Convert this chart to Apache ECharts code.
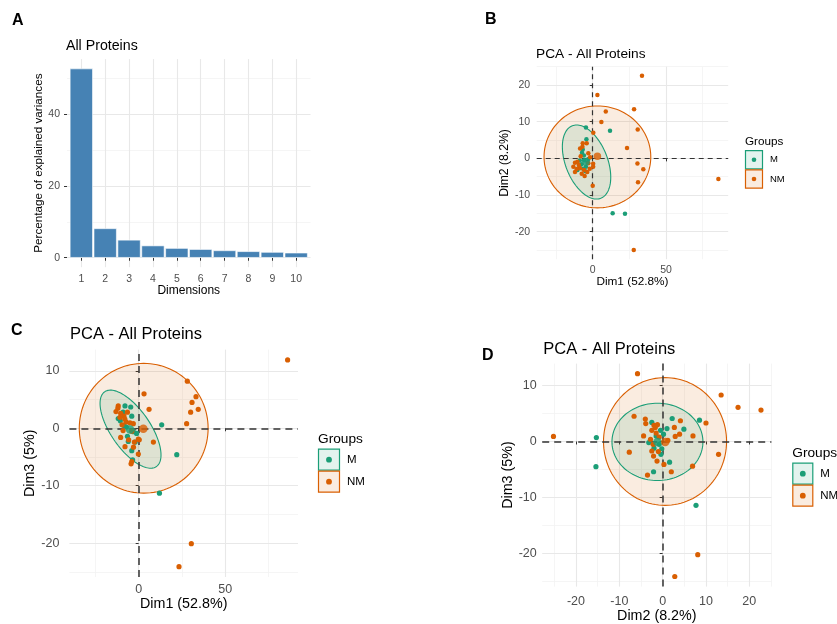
<!DOCTYPE html>
<html>
<head>
<meta charset="utf-8">
<script src="https://cdn.jsdelivr.net/npm/echarts@6.0.0/dist/echarts.min.js"></script>
<style>html,body{margin:0;padding:0;background:#fff;}#c{width:837px;height:624px;}</style>
</head>
<body>
<div id="c"></div>
<script>
// ---------- DATA ----------
const dims = [1, 2, 3, 4, 5, 6, 7, 8, 9, 10];
const variance = [52.8, 8.2, 5.0, 3.4, 2.7, 2.4, 2.05, 1.8, 1.6, 1.4];

const groups = ['M', 'NM'];

// Panel B: Dim1 vs Dim2
const B_M = [[-4.6,8.4],[11.8,7.5],[-4.3,5.2],[-6.8,2.4],[-7.3,1.5],[-6,0.8],[-5.9,-0.5],[-3.5,-1.2],[-8.8,-0.6],[-7.5,-1.6],[-4.6,-2.3],[-9,-2],[-6.5,-2.8],[-10.4,-3.2],[-5,-3.5],[-3,-0.2],[13.6,-15],[22,-15.1]];
const B_NM = [[33.6,22.5],[3.2,17.3],[8.9,12.8],[28.2,13.4],[5.9,9.9],[30.7,7.9],[23.4,2.8],[30.5,-1.4],[34.5,-3],[30.9,-6.5],[85.7,-5.6],[28,-25],[0.4,7.0],[0.3,-1.5],[0.3,-2.3],[0,-7.5],[-4.1,4.1],[-6.8,4.1],[-8.6,2.7],[-8.2,0.6],[-3,1.4],[-12.1,-1.2],[-10.4,-0.9],[-13.2,-2.3],[-8.7,-2.7],[-3,-1.3],[-12.1,-3.7],[-7.5,-4.2],[-3.7,-3.7],[-9.5,-1.8],[-6,-3.2],[-2,-2.8],[-11,-2.9],[-5.5,-4.8],[-1.8,0.3],[-7,3.2]];
const B_centroids = [[-4.6,-0.9],[3.2,0.6]];
// ellipse: [cx, cy, halfX, halfY, corr, groupIndex]
const B_ellipses = [[3.2,0.4,36.4,13.9,0,1],[-4.2,-1.0,16.5,10.1,-0.41,0]];

// Panel C: Dim1 vs Dim3
const C_M = [[13.3,0.6],[22,-4.6],[12,-11.3],[-7.9,3.9],[-4.6,3.7],[-11.8,1.7],[-4,2.1],[-10.6,1.3],[-7.1,0.2],[-6.5,-1.4],[-6,-2.3],[-4,-3.9],[-3.5,-5.5],[-3.1,-0.6],[-1.2,-0.9],[-9,2.8],[-8.5,0.5],[-2,-2.4]];
const C_NM = [[86,11.9],[28.1,8.2],[33.1,5.5],[30.8,4.5],[34.4,3.3],[30,2.8],[27.7,0.8],[3.1,6.0],[6,3.3],[8.5,-2.4],[30.4,-20.1],[23.3,-24.1],[-0.2,-1.9],[-0.2,-4.5],[-2.5,-2.4],[-4,-5.8],[-4.4,-6.2],[-11.8,3.9],[-13.1,2.9],[-10.4,2.6],[-8.5,2.1],[-7.3,1.1],[-5,0.95],[-9.6,0.6],[-3.1,0.8],[-9,-0.4],[-10.4,-1.6],[-7.9,-3.2],[0.35,-2.0],[-12,3.5],[-6.5,2.8],[-8,1.6],[-4,-0.5],[-5.8,-2],[-10.8,1.9],[-3,-3.3]];
const C_centroids = [[-5,-0.2],[2.7,-0.1]];
const C_ellipses = [[2.9,0,37.2,11.3,0,1],[-4.7,-0.16,17.6,6.8,-0.66,0]];

// Panel D: Dim2 vs Dim3
const D_M = [[-15.3,0.7],[-15.4,-4.5],[7.7,-11.4],[8.5,3.8],[2.2,4.1],[4.9,2.2],[1.0,2.3],[1.6,-3.7],[-2.1,-5.4],[-2.5,3.4],[-3.2,-0.2],[-2,-1.2],[-0.4,-2.3],[-0.2,-1.3],[-0.5,2.0],[-1.5,1.0],[0.2,1.3],[-0.8,-0.5]];
const D_NM = [[-5.8,12.1],[13.5,8.3],[17.4,6.1],[22.7,5.6],[-25.2,0.9],[-6.6,4.5],[10,3.3],[12.9,-2.3],[7,1.0],[6.9,-4.4],[-7.7,-1.9],[8.1,-20.2],[2.8,-24.1],[2.0,-5.4],[-3.5,-6.0],[4.1,3.7],[2.7,2.5],[3.9,1.3],[2.9,0.9],[-4,4],[-3.9,3.2],[-2,2.9],[-1.7,2.5],[-2.5,2.0],[-4.4,1.0],[-2.8,0.4],[-2.5,-1.7],[-2.1,-2.6],[-1.3,-3.5],[0.3,-4.1],[-1.2,3.0],[-1.5,1.5],[-0.8,0.8],[-2.2,-0.5],[1.2,0.2],[-1,-1.8]];
const D_centroids = [[-1.2,-0.1],[0.6,-0.1]];
const D_ellipses = [[0.55,0,14.2,11.4,0,1],[-1.2,-0.07,10.5,6.9,0,0]];

// tick values
const A_yTicks = [0, 20, 40];
const A_yMinor = [10, 30, 50];
const B_xTicks = [0, 50];
const B_xMinor = [-25, 25, 75];
const B_yTicks = [-20, -10, 0, 10, 20];
const B_yMinor = [-25, -15, -5, 5, 15, 25];
const C_xTicks = [0, 50];
const C_xMinor = [-25, 25, 75];
const C_yTicks = [-20, -10, 0, 10];
const C_yMinor = [-25, -15, -5, 5];
const D_xTicks = [-20, -10, 0, 10, 20];
const D_xMinor = [-25, -15, -5, 5, 15, 25];
const D_yTicks = [-20, -10, 0, 10];
const D_yMinor = [-25, -15, -5, 5];

// ---------- STYLE ----------
const COLORS = ['#1B9E77', '#D95F02'];
const FILLS = ['rgba(27,158,119,0.12)', 'rgba(217,95,2,0.12)'];
const FONT = 'Liberation Sans, Arial, sans-serif';
const MAJOR = '#e8e8e8', MINOR = '#f3f3f3';

const chart = echarts.init(document.getElementById('c'), null, {renderer: 'canvas'});

function valAxis(idx, min, max, ticks, fs, margin, name, nameGap, nameFs) {
  return {
    type: 'value', gridIndex: idx, min: min, max: max,
    name: name, nameLocation: 'middle', nameGap: nameGap,
    nameTextStyle: {fontFamily: FONT, fontSize: nameFs, color: '#000'},
    axisLine: {show: false},
    axisTick: {show: true, customValues: ticks, length: 3, lineStyle: {color: '#333', width: 1}},
    axisLabel: {customValues: ticks, fontFamily: FONT, fontSize: fs, color: '#4d4d4d', margin: margin},
    splitLine: {show: false}
  };
}

function gridSeries(idx, xMaj, xMin, yMaj, yMin) {
  const d = [];
  xMin.forEach(v => d.push({xAxis: v, lineStyle: {color: MINOR, width: 0.8, type: 'solid'}}));
  yMin.forEach(v => d.push({yAxis: v, lineStyle: {color: MINOR, width: 0.8, type: 'solid'}}));
  xMaj.forEach(v => d.push({xAxis: v, lineStyle: {color: MAJOR, width: 1.1, type: 'solid'}}));
  yMaj.forEach(v => d.push({yAxis: v, lineStyle: {color: MAJOR, width: 1.1, type: 'solid'}}));
  return {
    type: 'line', xAxisIndex: idx, yAxisIndex: idx, data: [], z: 0, zlevel: 0, silent: true,
    markLine: {z: 0, silent: true, symbol: ['none', 'none'], label: {show: false}, animation: false, data: d}
  };
}

function zeroSeries(idx, dash, w) {
  return {
    type: 'line', xAxisIndex: idx, yAxisIndex: idx, data: [], z: 3, silent: true,
    markLine: {z: 3, silent: true, symbol: ['none', 'none'], label: {show: false}, animation: false,
      lineStyle: {color: '#333', width: w, type: dash},
      data: [{xAxis: 0}, {yAxis: 0}]}
  };
}

function ellipseSeries(idx, data) {
  return {
    type: 'custom', xAxisIndex: idx, yAxisIndex: idx, z: 2, silent: true, clip: false,
    data: data, encode: {x: 0, y: 1},
    renderItem: function (params, api) {
      const cx = api.value(0), cy = api.value(1), sx = api.value(2), sy = api.value(3), r = api.value(4), g = api.value(5);
      const k = Math.sqrt(1 - r * r);
      const pts = [];
      for (let i = 0; i < 120; i++) {
        const t = i / 120 * 2 * Math.PI;
        pts.push(api.coord([cx + sx * Math.cos(t), cy + sy * (r * Math.cos(t) + k * Math.sin(t))]));
      }
      return {type: 'polygon', shape: {points: pts}, style: {fill: FILLS[g], stroke: COLORS[g], lineWidth: 1.1}};
    }
  };
}

function scatterSeries(idx, data, g, size) {
  return {type: 'scatter', xAxisIndex: idx, yAxisIndex: idx, data: data, symbolSize: size, z: 6,
    itemStyle: {color: COLORS[g], opacity: 1}, silent: true, animation: false};
}

function legendGraphics(x, y0, boxW, boxH, titleFs, labFs, dotR) {
  const els = [];
  els.push({type: 'text', left: x, top: y0, style: {text: 'Groups', font: titleFs + 'px ' + FONT, fill: '#000'}});
  groups.forEach((g, i) => {
    const by = y0 + titleFs * 1.25 + i * (boxH + 1);
    els.push({type: 'rect', shape: {x: x + 0.5, y: by, width: boxW, height: boxH},
      style: {fill: FILLS[i], stroke: COLORS[i], lineWidth: 1.2}});
    els.push({type: 'circle', shape: {cx: x + 0.5 + boxW / 2, cy: by + boxH / 2, r: dotR}, style: {fill: COLORS[i]}});
    els.push({type: 'text', x: x + boxW + 8, y: by + boxH / 2, style: {text: g, font: labFs + 'px ' + FONT, fill: '#000', verticalAlign: 'middle'}});
  });
  return els;
}

function textEl(x, y, text, fs, bold) {
  return {type: 'text', x: x, y: y, style: {text: text, font: (bold ? 'bold ' : '') + fs + 'px ' + FONT, fill: '#000', verticalAlign: 'middle'}};
}

const option = {
  animation: false,
  backgroundColor: '#fff',
  grid: [
    {left: 67, top: 59.1, width: 243.5, height: 208.1},
    {left: 536.7, top: 66.7, width: 191.5, height: 192.5},
    {left: 69.4, top: 349.6, width: 228.6, height: 227.4},
    {left: 542.2, top: 363.6, width: 229.2, height: 227.8}
  ],
  xAxis: [
    valAxis(0, 0.4, 10.6, dims, 10.5, 6, 'Dimensions', 16, 12),
    valAxis(1, -38.2, 92.4, B_xTicks, 10.5, 5, 'Dim1 (52.8%)', 15, 11.8),
    valAxis(2, -40, 92, C_xTicks, 12.5, 6, 'Dim1 (52.8%)', 20.5, 14.3),
    valAxis(3, -27.8, 25.1, D_xTicks, 12.5, 8.5, 'Dim2 (8.2%)', 21.5, 14.3)
  ],
  yAxis: [
    valAxis(0, -2.64, 55.44, A_yTicks, 10.5, 7, 'Percentage of explained variances', 21, 11.7),
    valAxis(1, -27.5, 25, B_yTicks, 10.5, 6.5, 'Dim2 (8.2%)', 22, 12.2),
    valAxis(2, -25.9, 13.7, C_yTicks, 12.5, 10, 'Dim3 (5%)', 24, 14.3),
    valAxis(3, -25.9, 13.9, D_yTicks, 12.5, 5.5, 'Dim3 (5%)', 22, 14.3)
  ],
  series: [
    gridSeries(0, dims, [], A_yTicks, A_yMinor),
    {type: 'bar', xAxisIndex: 0, yAxisIndex: 0, z: 2, barWidth: 23,
      data: dims.map((d, i) => [d, variance[i]]),
      itemStyle: {color: '#4682B4', borderColor: '#ffffff', borderWidth: 0.6}},

    gridSeries(1, B_xTicks, B_xMinor, B_yTicks, B_yMinor),
    ellipseSeries(1, B_ellipses),
    zeroSeries(1, [5, 4], 1.2),
    scatterSeries(1, B_M, 0, 4.5),
    scatterSeries(1, B_NM, 1, 4.5),
    {type: 'scatter', xAxisIndex: 1, yAxisIndex: 1, z: 7, symbolSize: 7.5, silent: true,
      data: B_centroids.map((p, i) => ({value: p, itemStyle: {color: COLORS[i]}}))},

    gridSeries(2, C_xTicks, C_xMinor, C_yTicks, C_yMinor),
    ellipseSeries(2, C_ellipses),
    zeroSeries(2, [7, 5], 1.5),
    scatterSeries(2, C_M, 0, 5.2),
    scatterSeries(2, C_NM, 1, 5.2),
    {type: 'scatter', xAxisIndex: 2, yAxisIndex: 2, z: 7, symbolSize: 8.5, silent: true,
      data: C_centroids.map((p, i) => ({value: p, itemStyle: {color: COLORS[i]}}))},

    gridSeries(3, D_xTicks, D_xMinor, D_yTicks, D_yMinor),
    ellipseSeries(3, D_ellipses),
    zeroSeries(3, [7, 5], 1.5),
    scatterSeries(3, D_M, 0, 5.2),
    scatterSeries(3, D_NM, 1, 5.2),
    {type: 'scatter', xAxisIndex: 3, yAxisIndex: 3, z: 7, symbolSize: 8.5, silent: true,
      data: D_centroids.map((p, i) => ({value: p, itemStyle: {color: COLORS[i]}}))}
  ],
  graphic: [].concat(
    [textEl(12, 20.5, 'A', 16, true), textEl(485, 20, 'B', 16, true), textEl(11, 330.5, 'C', 16, true), textEl(482, 355.5, 'D', 16, true)],
    [textEl(66, 45.7, 'All Proteins', 14.2), textEl(536, 54, 'PCA - All Proteins', 13.7),
     textEl(70, 334, 'PCA - All Proteins', 16.5), textEl(543.3, 349.3, 'PCA - All Proteins', 16.5)],
    legendGraphics(745, 136, 17, 18.2, 11.7, 9.5, 2.3),
    legendGraphics(318, 432, 21, 21, 13.7, 11.5, 2.9),
    legendGraphics(792.3, 446, 20, 21, 13.7, 11.5, 2.9)
  )
};
chart.setOption(option);
</script>
</body>
</html>
